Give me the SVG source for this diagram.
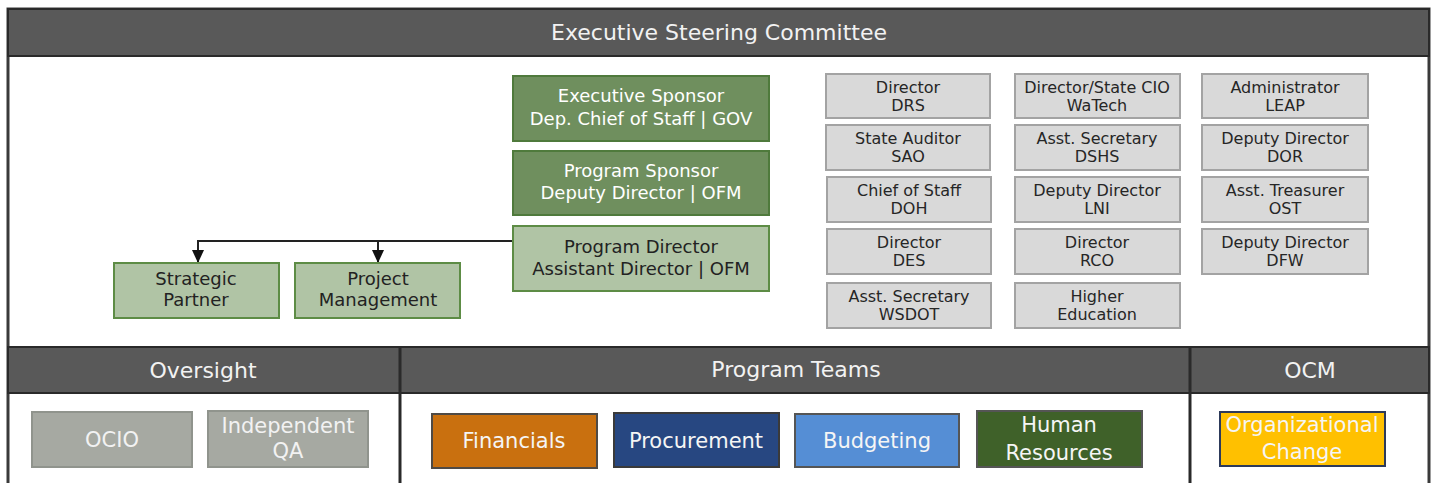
<svg xmlns="http://www.w3.org/2000/svg" width="1433" height="483" viewBox="0 0 1433 483">
<defs>
<marker id="arr" viewBox="0 0 13 12" refX="13" refY="6" markerWidth="13" markerHeight="12" markerUnits="userSpaceOnUse" orient="auto">
<path d="M0,0 L13,6 L0,12 z" fill="#111"/>
</marker>
<style>
text{font-family:"DejaVu Sans","Liberation Sans",sans-serif;text-anchor:middle}
.band{fill:#595959;stroke:#2a2a2a;stroke-width:2}
.hd{fill:#f2f2f2;font-size:22px}
.dg rect{fill:#6f8f5e;stroke:#4f7a3c;stroke-width:2}
.dg text{fill:#ffffff;font-size:18px}
.lg rect{fill:#b0c4a5;stroke:#5d8c45;stroke-width:2}
.lg text{fill:#222;font-size:18px}
.gy rect{fill:#d9d9d9;stroke:#a3a3a3;stroke-width:2}
.gy text{fill:#262626;font-size:16px}
.ov rect{fill:#a6a9a2;stroke:#90948d;stroke-width:2}
.ov text{fill:#f2f2f2;font-size:21px}
.tm text{fill:#f5f5f5;font-size:21px}
.conn{fill:none;stroke:#222;stroke-width:2}
</style>
</defs>
<rect x="0" y="0" width="1433" height="483" fill="#ffffff"/>
<!-- frame -->
<g id="frame">
<rect x="8" y="9" width="1421" height="490" fill="#ffffff" stroke="#3a3a3a" stroke-width="3"/>
<rect class="band" x="8" y="9" width="1421" height="47"/>
<text class="hd" x="719" y="40">Executive Steering Committee</text>
<rect class="band" x="8" y="347" width="1421" height="46"/>
<line x1="400" y1="347" x2="400" y2="483" stroke="#2a2a2a" stroke-width="3"/>
<line x1="1190" y1="347" x2="1190" y2="483" stroke="#2a2a2a" stroke-width="3"/>
<text class="hd" x="203" y="378">Oversight</text>
<text class="hd" x="796" y="377">Program Teams</text>
<text class="hd" x="1310" y="378">OCM</text>
</g>
<!-- connectors -->
<g id="connectors">
<path class="conn" d="M513,241 H198 V263" marker-end="url(#arr)"/>
<path class="conn" d="M378,241 V263" marker-end="url(#arr)"/>
</g>
<!-- sponsor nodes -->
<g id="exec-sponsor" class="dg"><rect x="513" y="76" width="256" height="65"/><text x="641" y="102">Executive Sponsor</text><text x="641" y="125">Dep. Chief of Staff | GOV</text></g>
<g id="program-sponsor" class="dg"><rect x="513" y="151" width="256" height="64"/><text x="641" y="177">Program Sponsor</text><text x="641" y="199">Deputy Director | OFM</text></g>
<g id="program-director" class="lg"><rect x="513" y="226" width="256" height="65"/><text x="641" y="253">Program Director</text><text x="641" y="275">Assistant Director | OFM</text></g>
<g id="strategic-partner" class="lg"><rect x="114" y="263" width="165" height="55"/><text x="196" y="285">Strategic</text><text x="196" y="306">Partner</text></g>
<g id="project-management" class="lg"><rect x="295" y="263" width="165" height="55"/><text x="378" y="285">Project</text><text x="378" y="306">Management</text></g>
<!-- committee members -->
<g id="drs" class="gy"><rect x="826" y="74" width="164" height="44"/><text x="908" y="93">Director</text><text x="908" y="111">DRS</text></g>
<g id="sao" class="gy"><rect x="826" y="125" width="164" height="45"/><text x="908" y="144">State Auditor</text><text x="908" y="162">SAO</text></g>
<g id="doh" class="gy"><rect x="827" y="177" width="164" height="45"/><text x="909" y="196">Chief of Staff</text><text x="909" y="214">DOH</text></g>
<g id="des" class="gy"><rect x="827" y="229" width="164" height="45"/><text x="909" y="248">Director</text><text x="909" y="266">DES</text></g>
<g id="wsdot" class="gy"><rect x="827" y="283" width="164" height="45"/><text x="909" y="302">Asst. Secretary</text><text x="909" y="320">WSDOT</text></g>
<g id="watech" class="gy"><rect x="1015" y="74" width="165" height="44"/><text x="1097" y="93">Director/State CIO</text><text x="1097" y="111">WaTech</text></g>
<g id="dshs" class="gy"><rect x="1015" y="125" width="165" height="45"/><text x="1097" y="144">Asst. Secretary</text><text x="1097" y="162">DSHS</text></g>
<g id="lni" class="gy"><rect x="1015" y="177" width="165" height="45"/><text x="1097" y="196">Deputy Director</text><text x="1097" y="214">LNI</text></g>
<g id="rco" class="gy"><rect x="1015" y="229" width="165" height="45"/><text x="1097" y="248">Director</text><text x="1097" y="266">RCO</text></g>
<g id="higher-ed" class="gy"><rect x="1015" y="283" width="165" height="45"/><text x="1097" y="302">Higher</text><text x="1097" y="320">Education</text></g>
<g id="leap" class="gy"><rect x="1202" y="74" width="166" height="44"/><text x="1285" y="93">Administrator</text><text x="1285" y="111">LEAP</text></g>
<g id="dor" class="gy"><rect x="1202" y="125" width="166" height="45"/><text x="1285" y="144">Deputy Director</text><text x="1285" y="162">DOR</text></g>
<g id="ost" class="gy"><rect x="1202" y="177" width="166" height="45"/><text x="1285" y="196">Asst. Treasurer</text><text x="1285" y="214">OST</text></g>
<g id="dfw" class="gy"><rect x="1202" y="229" width="166" height="45"/><text x="1285" y="248">Deputy Director</text><text x="1285" y="266">DFW</text></g>
<!-- oversight -->
<g id="ocio" class="ov"><rect x="32" y="412" width="160" height="55"/><text x="112" y="447">OCIO</text></g>
<g id="iqa" class="ov"><rect x="208" y="411" width="160" height="56"/><text x="288" y="433">Independent</text><text x="288" y="458">QA</text></g>
<!-- program teams -->
<g id="financials" class="tm"><rect x="432" y="414" width="165" height="54" fill="#c9700f" stroke="#4f4a45" stroke-width="2"/><text x="514" y="448">Financials</text></g>
<g id="procurement" class="tm"><rect x="614" y="413" width="165" height="54" fill="#274781" stroke="#3a3a3a" stroke-width="2"/><text x="696" y="448">Procurement</text></g>
<g id="budgeting" class="tm"><rect x="795" y="414" width="164" height="53" fill="#558ed5" stroke="#555555" stroke-width="2"/><text x="877" y="448">Budgeting</text></g>
<g id="hr" class="tm"><rect x="977" y="411" width="165" height="56" fill="#3f6129" stroke="#555555" stroke-width="2"/><text x="1059" y="432">Human</text><text x="1059" y="460">Resources</text></g>
<!-- OCM -->
<g id="org-change" class="tm"><rect x="1220" y="412" width="165" height="54" fill="#ffc000" stroke="#2d3a5a" stroke-width="2"/><text x="1302" y="432">Organizational</text><text x="1302" y="459">Change</text></g>
</svg>
